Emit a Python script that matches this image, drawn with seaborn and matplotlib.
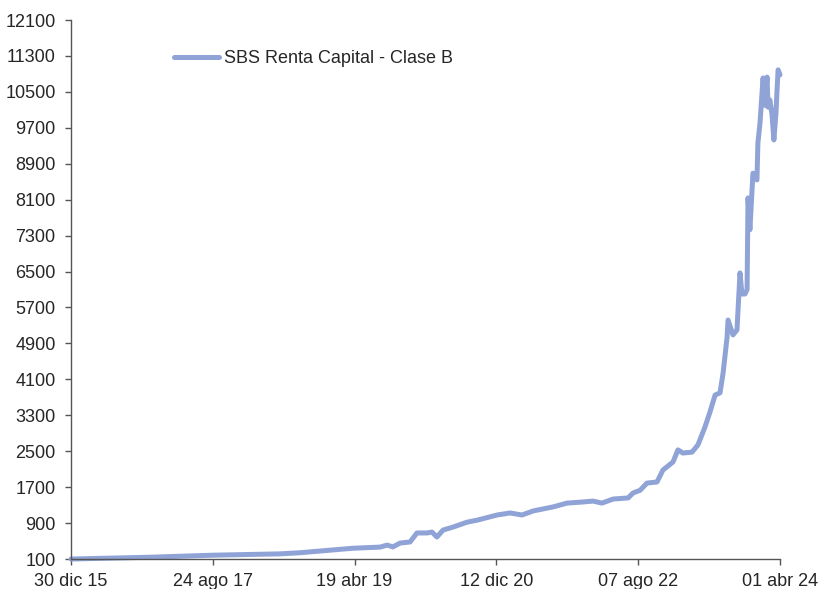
import numpy as np
import pandas as pd
import matplotlib
matplotlib.use("Agg")
import matplotlib.pyplot as plt
import matplotlib.dates as mdates
import seaborn as sns

# ── Data ────────────────────────────────────────────────
SERIES_NAME = "SBS Renta Capital - Clase B"

dates = [
    "2015-12-30", "2016-11-30", "2017-08-25", "2018-06-06", "2018-08-30",
    "2019-04-12", "2019-08-05", "2019-09-04", "2019-09-29", "2019-10-29",
    "2019-12-11", "2020-01-09", "2020-02-21", "2020-03-13", "2020-04-03",
    "2020-04-29", "2020-06-10", "2020-08-09", "2020-09-21", "2020-12-15",
    "2021-02-08", "2021-03-31", "2021-05-17", "2021-08-10", "2021-10-08",
    "2021-12-15", "2022-01-27", "2022-03-06", "2022-04-22", "2022-06-25",
    "2022-07-16", "2022-08-15", "2022-09-13", "2022-10-26", "2022-11-20",
    "2023-01-02", "2023-01-23", "2023-02-13", "2023-03-24", "2023-04-18",
    "2023-05-18", "2023-06-08", "2023-06-30", "2023-07-21", "2023-08-03",
    "2023-08-20", "2023-08-24", "2023-09-14", "2023-10-01", "2023-10-14",
    "2023-10-22", "2023-11-04", "2023-11-13", "2023-11-17", "2023-11-25",
    "2023-12-08", "2023-12-25", "2023-12-29", "2024-01-07", "2024-01-20",
    "2024-01-28", "2024-02-06", "2024-02-10", "2024-02-18", "2024-02-27",
    "2024-03-06", "2024-03-15", "2024-03-19", "2024-03-24", "2024-04-01",
]

values = [
    100, 140, 185, 215, 240,
    340, 365, 410, 370, 455,
    480, 680, 680, 700, 590,
    745, 810, 920, 965, 1080,
    1125, 1080, 1170, 1260, 1345,
    1370, 1390, 1345, 1435, 1460,
    1570, 1630, 1790, 1815, 2080,
    2260, 2530, 2460, 2480, 2640,
    3040, 3370, 3750, 3800, 4240,
    5040, 5420, 5090, 5200, 6470,
    6000, 6000, 6100, 8140, 7430,
    8690, 8540, 9360, 9810, 10810,
    10200, 10830, 10160, 10320, 10000,
    9430, 10030, 10500, 10990, 10880,
]

tick_dates = ["2015-12-30", "2017-08-24", "2019-04-19",
              "2020-12-12", "2022-08-07", "2024-04-01"]
tick_labels = ["30 dic 15", "24 ago 17", "19 abr 19",
               "12 dic 20", "07 ago 22", "01 abr 24"]
y_ticks = list(range(100, 12101, 800))
# ────────────────────────────────────────────────────────

LINE_COLOR = "#8FA3D6"
TEXT_COLOR = "#262626"

df = pd.DataFrame({"fecha": pd.to_datetime(dates), "valor": values,
                   "serie": SERIES_NAME})

sns.set_style("ticks")
plt.rcParams["font.family"] = ["Liberation Sans", "DejaVu Sans"]

fig = plt.figure(figsize=(8.22, 5.89), dpi=100)
ax = fig.add_axes([0.0864, 0.0509, 0.8625, 0.9151])

sns.lineplot(data=df, x="fecha", y="valor", hue="serie",
             palette=[LINE_COLOR], linewidth=3.6, ax=ax,
             solid_joinstyle="round", solid_capstyle="round")

ax.set_xlim(pd.Timestamp(tick_dates[0]), pd.Timestamp(tick_dates[-1]))
ax.set_ylim(y_ticks[0], y_ticks[-1])
ax.set_xticks(pd.to_datetime(tick_dates))
ax.set_xticklabels(tick_labels)
ax.set_yticks(y_ticks)
ax.set_xlabel("")
ax.set_ylabel("")

for line in ax.get_lines():
    line.set_clip_on(False)

sns.despine(ax=ax)
for side in ["left", "bottom"]:
    ax.spines[side].set_color("#555555")
    ax.spines[side].set_linewidth(1.0)
ax.tick_params(axis="both", direction="out", length=4, width=1.0,
               color="#555555", labelsize=13, labelcolor=TEXT_COLOR)
ax.tick_params(axis="y", pad=7)
ax.tick_params(axis="x", pad=6)

leg = ax.legend(loc="center left", bbox_to_anchor=(0.145, 0.928),
                frameon=False, fontsize=13, handlelength=2.5,
                handletextpad=0.3, borderpad=0, borderaxespad=0)
for t in leg.get_texts():
    t.set_color(TEXT_COLOR)

fig.savefig("out.png", dpi=100)
